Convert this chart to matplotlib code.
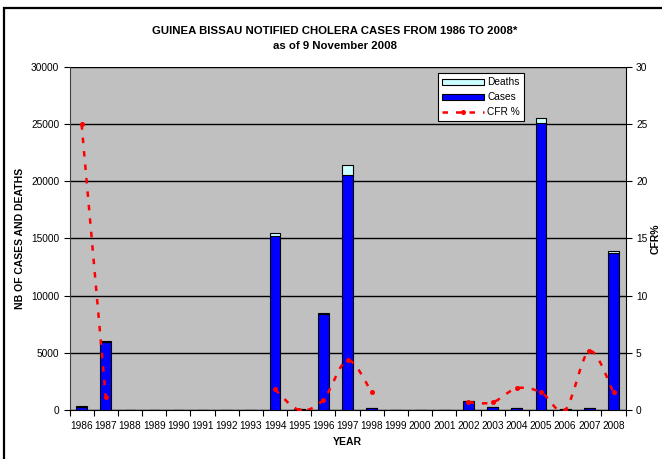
import numpy as np
import matplotlib
matplotlib.use("Agg")
import matplotlib.pyplot as plt
from matplotlib.path import Path
from matplotlib.patches import PathPatch, Rectangle
from matplotlib.lines import Line2D

plt.rcParams['font.family'] = ['Liberation Sans', 'DejaVu Sans']

years = [str(y) for y in range(1986, 2009)]
cases = [270, 5950, 0, 0, 0, 0, 0, 0, 15220, 100, 8400, 20550, 150, 0, 0, 0,
         800, 280, 150, 25100, 50, 200, 13730]
deaths = [68, 70, 0, 0, 0, 0, 0, 0, 300, 0, 80, 880, 3, 0, 0, 0,
          6, 2, 3, 400, 0, 10, 220]
cfr = [25, 1.1, np.nan, np.nan, np.nan, np.nan, np.nan, np.nan, 1.8, 0, 0.9, 4.35,
       1.55, np.nan, np.nan, np.nan, 0.67, 0.67, 1.9, 1.55, 0, 5.15, 1.55]

fig = plt.figure(figsize=(6.62, 4.59), dpi=100)
ax = fig.add_axes([0.105, 0.1068, 0.840, 0.7472])
ax.set_facecolor('#C0C0C0')

x = np.arange(len(years))
ax.bar(x, cases, width=0.45, color='#0000FF', edgecolor='black', linewidth=0.8,
       label='Cases', zorder=3)
ax.bar(x, deaths, width=0.45, bottom=cases, color='#CCFFFF', edgecolor='black',
       linewidth=0.8, label='Deaths', zorder=3)

ax.set_xlim(-0.5, len(years) - 0.5)
ax.set_ylim(0, 30000)
ax.set_yticks(range(0, 30001, 5000))
ax.grid(axis='y', color='black', linewidth=1, zorder=1)
ax.set_axisbelow(True)

# x ticks at category boundaries, labels centred
ax.set_xticks(np.arange(-0.5, len(years), 1))
ax.set_xticklabels([])
ax.set_xticks(x, minor=True)
ax.set_xticklabels(years, minor=True, fontsize=7.3)
ax.tick_params(axis='x', which='minor', length=0, pad=8)
ax.tick_params(axis='x', which='major', length=4, direction='out')
ax.tick_params(axis='y', labelsize=7.3, length=4, direction='out')
for s in ['top', 'right']:
    ax.spines[s].set_visible(False)
ax.spines['left'].set_color('#404040')
ax.spines['bottom'].set_color('black')

ax.set_xlabel('YEAR', fontsize=7.5, fontweight='bold', labelpad=4)
ax.set_ylabel('NB OF CASES AND DEATHS', fontsize=7.5, fontweight='bold', labelpad=4)

ax2 = ax.twinx()
ax2.set_ylim(0, 30)
ax2.set_yticks(range(0, 31, 5))
ax2.tick_params(axis='y', labelsize=7.3, length=4, direction='out')
for s in ['top', 'left', 'bottom']:
    ax2.spines[s].set_visible(False)
ax2.spines['right'].set_color('black')
ax2.set_ylabel('CFR%', fontsize=7.5, fontweight='bold', labelpad=2)

# smoothed CFR line (Catmull-Rom as bezier), one piece per run of data
cfr_arr = np.array(cfr, dtype=float)
runs = []
cur = []
for i, v in enumerate(cfr_arr):
    if np.isnan(v):
        if cur:
            runs.append(cur)
        cur = []
    else:
        cur.append(i)
if cur:
    runs.append(cur)

for run in runs:
    pts = np.array([[i, cfr_arr[i]] for i in run])
    verts = [tuple(pts[0])]
    codes = [Path.MOVETO]
    n = len(pts)
    for k in range(n - 1):
        p0 = pts[k - 1] if k > 0 else pts[k]
        p1 = pts[k]
        p2 = pts[k + 1]
        p3 = pts[k + 2] if k + 2 < n else pts[k + 1]
        c1 = p1 + (p2 - p0) / 6
        c2 = p2 - (p3 - p1) / 6
        verts += [tuple(c1), tuple(c2), tuple(p2)]
        codes += [Path.CURVE4] * 3
    ax2.add_patch(PathPatch(Path(verts, codes), fill=False, edgecolor='red',
                            linewidth=1.8, linestyle=(0, (2.2, 3.2)), zorder=4))
ax2.plot(x, cfr_arr, linestyle='none', marker='o', markersize=2.6, color='red', zorder=5)

handles = [
    Rectangle((0, 0), 1, 1, facecolor='#CCFFFF', edgecolor='black', linewidth=0.8),
    Rectangle((0, 0), 1, 1, facecolor='#0000FF', edgecolor='black', linewidth=0.8),
    Line2D([0], [0], color='red', linewidth=1.8, linestyle=(0, (2.2, 3.2)),
           marker='o', markersize=2.6),
]
leg = ax2.legend(handles, ['Deaths', 'Cases', 'CFR %'], loc='upper left',
                 bbox_to_anchor=(0.662, 0.982), fontsize=7.3, frameon=True,
                 fancybox=False, edgecolor='black', framealpha=1,
                 handlelength=4.2, handleheight=0.55, handletextpad=0.3,
                 borderpad=0.4, labelspacing=0.5, borderaxespad=0)
leg.get_frame().set_linewidth(0.8)

fig.text(0.506, 0.932, 'GUINEA BISSAU NOTIFIED CHOLERA CASES FROM 1986 TO 2008*',
         ha='center', va='center', fontsize=8.2, fontweight='bold')
fig.text(0.506, 0.899, 'as of 9 November 2008', ha='center', va='center',
         fontsize=8.2, fontweight='bold')

# outer chart border (cut by the image on right and bottom)
fig.patches.append(Rectangle((3.5 / 662, -0.1), 1.2, (459 - 7.5) / 459 + 0.1,
                             transform=fig.transFigure, fill=False,
                             edgecolor='black', linewidth=1.6))

fig.savefig('out.png', dpi=100)
